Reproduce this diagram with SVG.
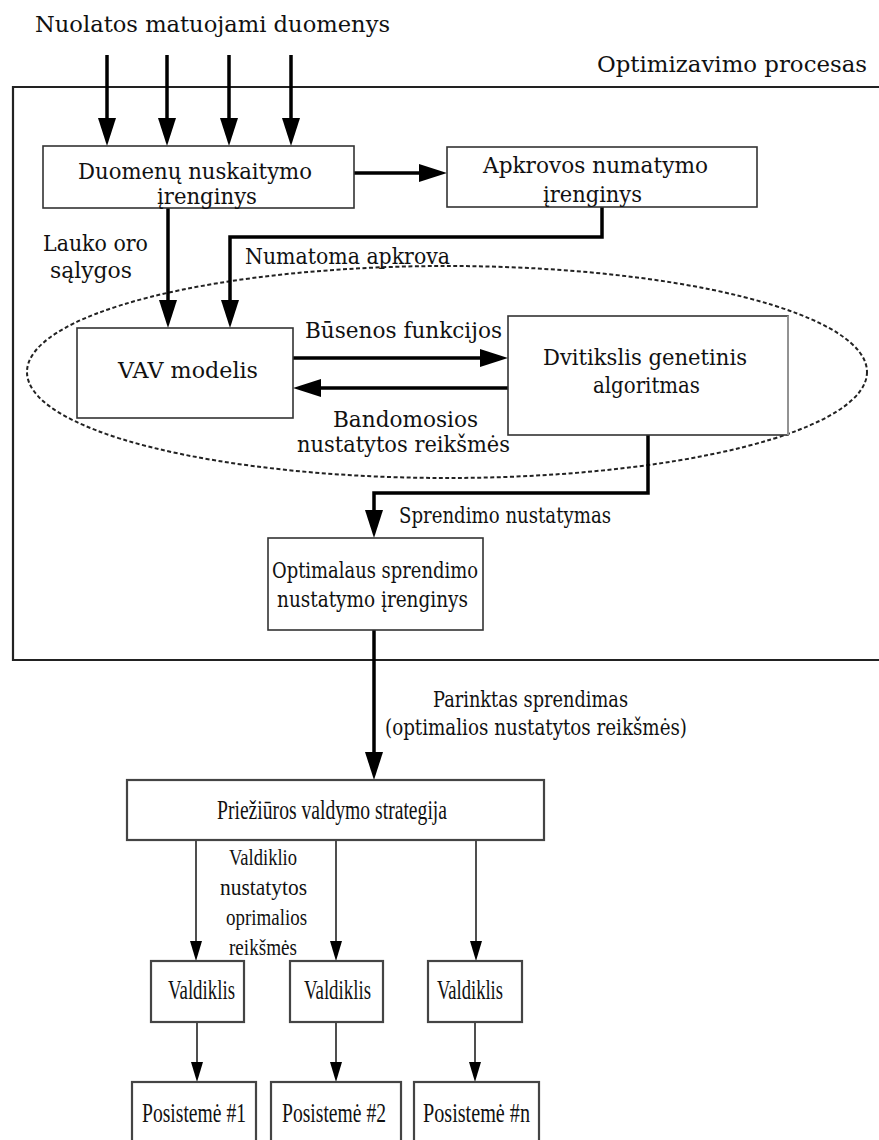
<svg xmlns="http://www.w3.org/2000/svg" width="879" height="1140" viewBox="0 0 879 1140">
  <style>
    .t { font-family: "DejaVu Serif", "Liberation Serif", serif; font-size: 22px; fill: #111; }
    .b { font-family: "Liberation Serif", "DejaVu Serif", serif; font-size: 27px; fill: #111; }
    .s { font-family: "Liberation Serif", "DejaVu Serif", serif; font-size: 24px; fill: #111; }
    .box { fill: #fff; stroke: #333; stroke-width: 1.6; }
    .box2 { fill: #fff; stroke: #444; stroke-width: 2.2; }
    .thick { fill: none; stroke: #000; stroke-width: 3.5; marker-end: url(#head); }
    .thin { fill: none; stroke: #222; stroke-width: 1.6; marker-end: url(#headThin); }
  </style>
  <defs>
    <!-- tip sits 10px beyond the path end so the line does not poke through -->
    <marker id="head" viewBox="0 0 28 18" refX="18" refY="9" markerWidth="28" markerHeight="18" markerUnits="userSpaceOnUse" orient="auto">
      <path d="M0,0 L28,9 L0,18 z" fill="#000"/>
    </marker>
    <marker id="headThin" viewBox="0 0 20 12" refX="12" refY="6" markerWidth="20" markerHeight="12" markerUnits="userSpaceOnUse" orient="auto">
      <path d="M0,0 L20,6 L0,12 z" fill="#000"/>
    </marker>
  </defs>

  <rect width="879" height="1140" fill="#fff"/>

  <!-- heading and process frame -->
  <text class="t" x="35" y="32" textLength="355" lengthAdjust="spacingAndGlyphs">Nuolatos matuojami duomenys</text>
  <text class="t" x="597" y="72" textLength="270" lengthAdjust="spacingAndGlyphs">Optimizavimo procesas</text>
  <path id="frame" d="M882,87 H13 V660 H882" fill="none" stroke="#222" stroke-width="2.2"/>

  <!-- dotted optimisation loop -->
  <ellipse id="loop" cx="447" cy="372" rx="420" ry="106" fill="none" stroke="#222" stroke-width="2" stroke-dasharray="4 2.5"/>

  <g id="connectors">
    <path class="thick" d="M107,55 V136"/>
    <path class="thick" d="M167,55 V136"/>
    <path class="thick" d="M229,55 V136"/>
    <path class="thick" d="M291,55 V136"/>
    <path class="thick" d="M354,173 H437"/>
    <path class="thick" d="M168,208 V318"/>
    <path class="thick" d="M602,207 V237 H230 V318"/>
    <path class="thick" d="M293,358 H498"/>
    <path class="thick" d="M508,388 H303"/>
    <path class="thick" d="M648,435 V493 H374 V528"/>
    <path class="thick" d="M374,630 V770"/>
    <path class="thin" d="M196,840 V953"/>
    <path class="thin" d="M336,840 V953"/>
    <path class="thin" d="M476,840 V953"/>
    <path class="thin" d="M197,1022 V1074"/>
    <path class="thin" d="M336,1022 V1074"/>
    <path class="thin" d="M475,1022 V1074"/>
  </g>

  <!-- connector labels -->
  <g id="labels">
    <text class="t" x="43" y="251" textLength="105" lengthAdjust="spacingAndGlyphs">Lauko oro</text>
    <text class="t" x="50" y="278" textLength="82" lengthAdjust="spacingAndGlyphs">sąlygos</text>
    <text class="t" x="245" y="264" textLength="205" lengthAdjust="spacingAndGlyphs">Numatoma apkrova</text>
    <text class="t" x="305" y="338" textLength="197" lengthAdjust="spacingAndGlyphs">Būsenos funkcijos</text>
    <text class="t" x="333" y="427" textLength="145" lengthAdjust="spacingAndGlyphs">Bandomosios</text>
    <text class="t" x="297" y="452" textLength="213" lengthAdjust="spacingAndGlyphs">nustatytos reikšmės</text>
    <text class="t" x="399" y="523" textLength="212" lengthAdjust="spacingAndGlyphs">Sprendimo nustatymas</text>
    <text class="t" x="433" y="707" textLength="195" lengthAdjust="spacingAndGlyphs">Parinktas sprendimas</text>
    <text class="t" x="385" y="735" textLength="302" lengthAdjust="spacingAndGlyphs">(optimalios nustatytos reikšmės)</text>
    <text class="s" x="229" y="865" textLength="68" lengthAdjust="spacingAndGlyphs">Valdiklio</text>
    <text class="s" x="220" y="895" textLength="87" lengthAdjust="spacingAndGlyphs">nustatytos</text>
    <text class="s" x="226" y="925" textLength="81" lengthAdjust="spacingAndGlyphs">oprimalios</text>
    <text class="s" x="229" y="955" textLength="68" lengthAdjust="spacingAndGlyphs">reikšmės</text>
  </g>

  <g id="reader">
    <rect class="box" x="43" y="146" width="311" height="62"/>
    <text class="t" x="78" y="179" textLength="234" lengthAdjust="spacingAndGlyphs">Duomenų nuskaitymo</text>
    <text class="t" x="157" y="204" textLength="100" lengthAdjust="spacingAndGlyphs">įrenginys</text>
  </g>

  <g id="forecast">
    <rect class="box" x="447" y="147" width="310" height="60"/>
    <text class="t" x="483" y="173" textLength="225" lengthAdjust="spacingAndGlyphs">Apkrovos numatymo</text>
    <text class="t" x="543" y="202" textLength="99" lengthAdjust="spacingAndGlyphs">įrenginys</text>
  </g>

  <g id="vav">
    <rect class="box" x="77" y="328" width="216" height="90"/>
    <text class="t" x="118" y="378" textLength="140" lengthAdjust="spacingAndGlyphs">VAV modelis</text>
  </g>

  <g id="genetic">
    <rect class="box" x="508" y="316" width="280" height="119"/>
    <line x1="788" y1="316" x2="788" y2="435" stroke="#999" stroke-width="1.8"/>
    <text class="t" x="543" y="365" textLength="204" lengthAdjust="spacingAndGlyphs">Dvitikslis genetinis</text>
    <text class="t" x="593" y="393" textLength="107" lengthAdjust="spacingAndGlyphs">algoritmas</text>
  </g>

  <g id="optimal">
    <rect class="box" x="268" y="538" width="215" height="92"/>
    <text class="t" x="272" y="578" textLength="206" lengthAdjust="spacingAndGlyphs">Optimalaus sprendimo</text>
    <text class="t" x="277" y="607" textLength="191" lengthAdjust="spacingAndGlyphs">nustatymo įrenginys</text>
  </g>

  <g id="supervisory">
    <rect class="box2" x="127" y="780" width="417" height="60"/>
    <text class="b" x="217" y="819" textLength="230" lengthAdjust="spacingAndGlyphs">Priežiūros valdymo strategija</text>
  </g>

  <g id="controller1">
    <rect class="box2" x="151" y="961" width="93" height="61"/>
    <text class="b" x="168" y="999" textLength="67" lengthAdjust="spacingAndGlyphs">Valdiklis</text>
  </g>
  <g id="controller2">
    <rect class="box2" x="290" y="961" width="93" height="61"/>
    <text class="b" x="304" y="999" textLength="67" lengthAdjust="spacingAndGlyphs">Valdiklis</text>
  </g>
  <g id="controller3">
    <rect class="box2" x="428" y="961" width="94" height="61"/>
    <text class="b" x="437" y="999" textLength="66" lengthAdjust="spacingAndGlyphs">Valdiklis</text>
  </g>

  <g id="subsystem1">
    <rect class="box2" x="132" y="1082" width="124" height="70"/>
    <text class="b" x="142" y="1122" textLength="104" lengthAdjust="spacingAndGlyphs">Posistemė #1</text>
  </g>
  <g id="subsystem2">
    <rect class="box2" x="271" y="1082" width="130" height="70"/>
    <text class="b" x="282" y="1122" textLength="104" lengthAdjust="spacingAndGlyphs">Posistemė #2</text>
  </g>
  <g id="subsystemN">
    <rect class="box2" x="414" y="1082" width="125" height="70"/>
    <text class="b" x="423" y="1122" textLength="107" lengthAdjust="spacingAndGlyphs">Posistemė #n</text>
  </g>
</svg>
